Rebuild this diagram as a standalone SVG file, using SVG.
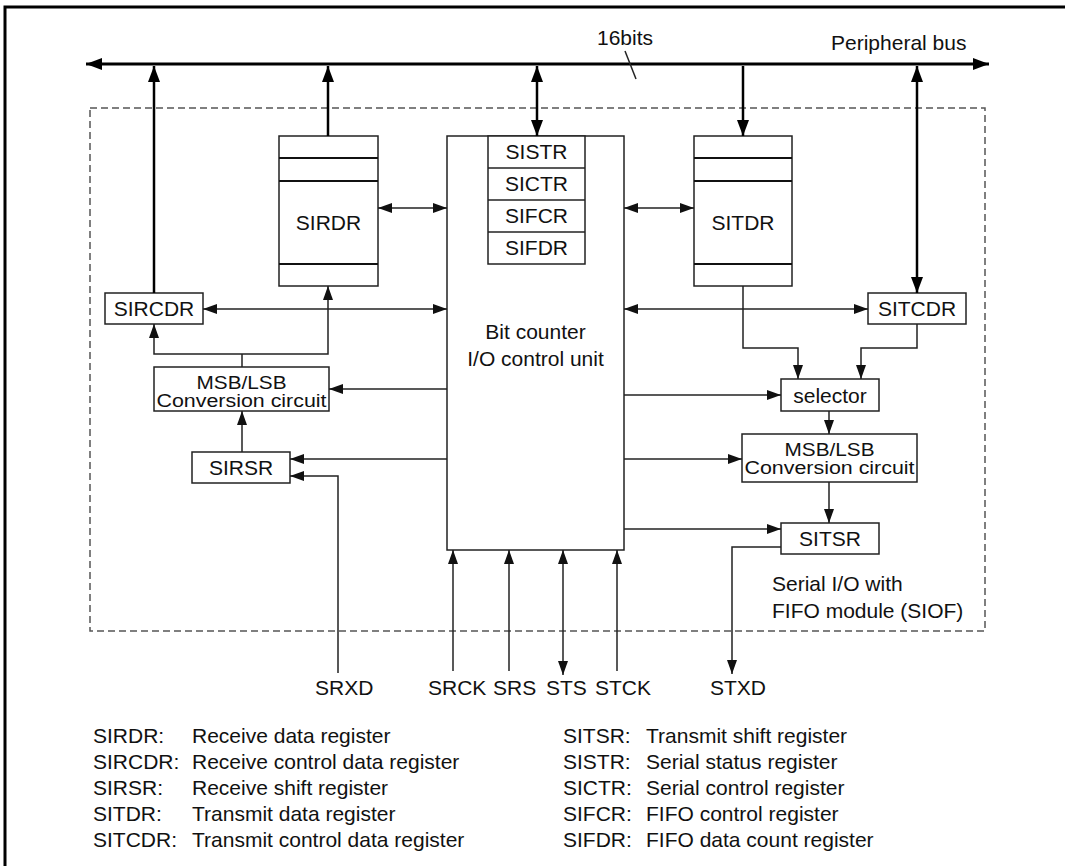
<svg xmlns="http://www.w3.org/2000/svg" width="1065" height="866" viewBox="0 0 1065 866">
<defs>
<marker id="a" markerUnits="userSpaceOnUse" markerWidth="14" markerHeight="10" refX="14" refY="5" orient="auto-start-reverse"><path d="M0,0 L14,5 L0,10 z" fill="#111"/></marker>
<marker id="b" markerUnits="userSpaceOnUse" markerWidth="16" markerHeight="12" refX="16" refY="6" orient="auto-start-reverse"><path d="M0,0 L16,6 L0,12 z" fill="#000"/></marker>
</defs>
<style>
text{font-family:"Liberation Sans",Arial,sans-serif;font-size:21px;fill:#111}
.c{text-anchor:middle}
.sq{font-size:17.5px}
.box{fill:#fff;stroke:#222;stroke-width:1.5}
.ln{fill:none;stroke:#222;stroke-width:1.5}
.th{fill:none;stroke:#000;stroke-width:2.5}
.sep{stroke:#111;stroke-width:2}
</style>
<rect width="1065" height="866" fill="#fff"/>
<path d="M5,866 V7 H1065" fill="none" stroke="#000" stroke-width="3"/>
<rect x="90" y="108" width="895" height="523" fill="none" stroke="#555" stroke-width="1.5" stroke-dasharray="7,4"/>

<g id="bus">
<line x1="86" y1="64" x2="989" y2="64" stroke="#000" stroke-width="3" marker-start="url(#b)" marker-end="url(#b)"/>
<text x="597" y="45">16bits</text>
<line x1="625" y1="51" x2="636" y2="79" class="ln"/>
<text x="831" y="50">Peripheral bus</text>
</g>

<g id="sirdr">
<rect x="279" y="136" width="99" height="150" class="box"/>
<line x1="279" y1="158" x2="378" y2="158" class="sep"/>
<line x1="279" y1="181" x2="378" y2="181" class="sep"/>
<line x1="279" y1="264" x2="378" y2="264" class="sep"/>
<text x="328.5" y="230" class="c">SIRDR</text>
</g>
<g id="sitdr">
<rect x="694" y="136" width="98" height="150" class="box"/>
<line x1="694" y1="158" x2="792" y2="158" class="sep"/>
<line x1="694" y1="181" x2="792" y2="181" class="sep"/>
<line x1="694" y1="264" x2="792" y2="264" class="sep"/>
<text x="743" y="230" class="c">SITDR</text>
</g>
<g id="ctrl">
<rect x="447" y="136" width="177" height="414" class="box"/>
<text x="535.5" y="339" class="c">Bit counter</text>
<text x="535.5" y="366" class="c">I/O control unit</text>
</g>
<g id="regs">
<rect x="488" y="136" width="97" height="128" class="box"/>
<line x1="488" y1="168" x2="585" y2="168" class="ln"/>
<line x1="488" y1="200" x2="585" y2="200" class="ln"/>
<line x1="488" y1="232" x2="585" y2="232" class="ln"/>
<text x="536.5" y="159" class="c">SISTR</text>
<text x="536.5" y="191" class="c">SICTR</text>
<text x="536.5" y="223" class="c">SIFCR</text>
<text x="536.5" y="255" class="c">SIFDR</text>
</g>
<g id="sircdr">
<rect x="105" y="293" width="98" height="31" class="box"/>
<text x="154" y="316" class="c">SIRCDR</text>
</g>
<g id="sitcdr">
<rect x="868" y="293" width="98" height="31" class="box"/>
<text x="917" y="316" class="c">SITCDR</text>
</g>
<g id="msb-rx">
<rect x="154" y="367" width="175" height="44" class="box"/>
<text x="241.5" y="389" class="c sq" textLength="90" lengthAdjust="spacingAndGlyphs">MSB/LSB</text>
<text x="241.5" y="407" class="c sq" textLength="170" lengthAdjust="spacingAndGlyphs">Conversion circuit</text>
</g>
<g id="sirsr">
<rect x="192" y="452" width="98" height="31" class="box"/>
<text x="241" y="475" class="c">SIRSR</text>
</g>
<g id="selector">
<rect x="781" y="379" width="98" height="32" class="box"/>
<text x="830" y="403" class="c">selector</text>
</g>
<g id="msb-tx">
<rect x="742" y="434" width="175" height="48" class="box"/>
<text x="829.5" y="456" class="c sq" textLength="90" lengthAdjust="spacingAndGlyphs">MSB/LSB</text>
<text x="829.5" y="474" class="c sq" textLength="170" lengthAdjust="spacingAndGlyphs">Conversion circuit</text>
</g>
<g id="sitsr">
<rect x="781" y="523" width="98" height="31" class="box"/>
<text x="830" y="546" class="c">SITSR</text>
</g>

<g id="connectors">
<line x1="154" y1="293" x2="154" y2="66" class="th" marker-end="url(#b)"/>
<line x1="328" y1="136" x2="328" y2="66" class="th" marker-end="url(#b)"/>
<line x1="537" y1="66" x2="537" y2="136" class="th" marker-start="url(#b)" marker-end="url(#b)"/>
<line x1="743" y1="66" x2="743" y2="136" class="th" marker-end="url(#b)"/>
<line x1="917" y1="66" x2="917" y2="293" class="th" marker-start="url(#b)" marker-end="url(#b)"/>

<line x1="378" y1="208" x2="447" y2="208" class="ln" marker-start="url(#a)" marker-end="url(#a)"/>
<line x1="624" y1="208" x2="694" y2="208" class="ln" marker-start="url(#a)" marker-end="url(#a)"/>
<line x1="203" y1="309" x2="447" y2="309" class="ln" marker-start="url(#a)" marker-end="url(#a)"/>
<line x1="624" y1="309" x2="868" y2="309" class="ln" marker-start="url(#a)" marker-end="url(#a)"/>

<line x1="242" y1="367" x2="242" y2="354" class="ln"/>
<path d="M242,354 H154 V324" class="ln" marker-end="url(#a)"/>
<path d="M242,354 H328 V286" class="ln" marker-end="url(#a)"/>
<line x1="447" y1="389" x2="329" y2="389" class="ln" marker-end="url(#a)"/>
<line x1="242" y1="452" x2="242" y2="411" class="ln" marker-end="url(#a)"/>
<line x1="447" y1="459" x2="290" y2="459" class="ln" marker-end="url(#a)"/>
<path d="M338,673 V476 H290" class="ln" marker-end="url(#a)"/>

<path d="M743,286 V348 H798 V379" class="ln" marker-end="url(#a)"/>
<path d="M917,324 V348 H861 V379" class="ln" marker-end="url(#a)"/>
<line x1="624" y1="395" x2="781" y2="395" class="ln" marker-end="url(#a)"/>
<line x1="829" y1="411" x2="829" y2="434" class="ln" marker-end="url(#a)"/>
<line x1="624" y1="459" x2="742" y2="459" class="ln" marker-end="url(#a)"/>
<line x1="829" y1="482" x2="829" y2="523" class="ln" marker-end="url(#a)"/>
<line x1="624" y1="529" x2="781" y2="529" class="ln" marker-end="url(#a)"/>
<path d="M781,547 H732 V674" class="ln" marker-end="url(#a)"/>

<line x1="453" y1="671" x2="453" y2="550" class="ln" marker-end="url(#a)"/>
<line x1="509" y1="671" x2="509" y2="550" class="ln" marker-end="url(#a)"/>
<line x1="563" y1="550" x2="563" y2="675" class="ln" marker-start="url(#a)" marker-end="url(#a)"/>
<line x1="617" y1="671" x2="617" y2="550" class="ln" marker-end="url(#a)"/>
</g>

<g id="pins">
<text x="315" y="695">SRXD</text>
<text x="428" y="695">SRCK</text>
<text x="493" y="695">SRS</text>
<text x="546" y="695">STS</text>
<text x="595" y="695">STCK</text>
<text x="710" y="695">STXD</text>
</g>
<g id="module-label">
<text x="772" y="591">Serial I/O with</text>
<text x="772" y="618">FIFO module (SIOF)</text>
</g>
<g id="legend">
<text x="93" y="743">SIRDR:</text><text x="192" y="743">Receive data register</text>
<text x="93" y="769">SIRCDR:</text><text x="192" y="769">Receive control data register</text>
<text x="93" y="795">SIRSR:</text><text x="192" y="795">Receive shift register</text>
<text x="93" y="821">SITDR:</text><text x="192" y="821">Transmit data register</text>
<text x="93" y="847">SITCDR:</text><text x="192" y="847">Transmit control data register</text>
<text x="563" y="743">SITSR:</text><text x="646" y="743">Transmit shift register</text>
<text x="563" y="769">SISTR:</text><text x="646" y="769">Serial status register</text>
<text x="563" y="795">SICTR:</text><text x="646" y="795">Serial control register</text>
<text x="563" y="821">SIFCR:</text><text x="646" y="821">FIFO control register</text>
<text x="563" y="847">SIFDR:</text><text x="646" y="847">FIFO data count register</text>
</g>
</svg>
